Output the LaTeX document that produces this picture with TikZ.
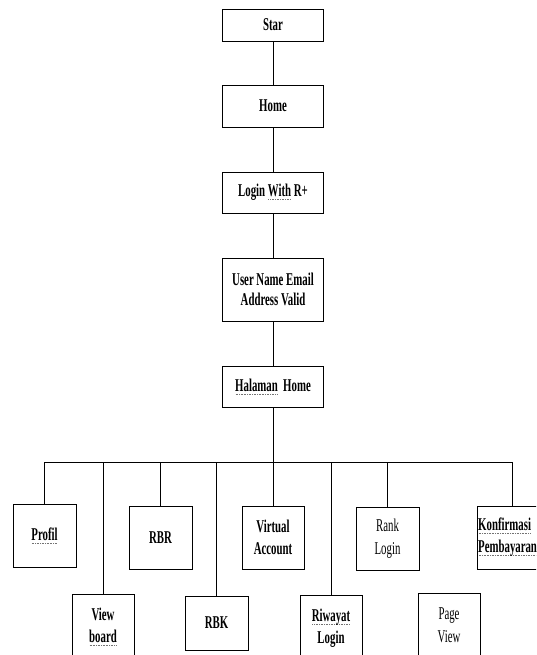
\documentclass[tikz,border=0pt]{standalone}
\usepackage{fontspec}
\setmainfont{Liberation Serif}[FakeStretch=0.6]
\newcommand\sqw[1]{\setbox0\hbox{#1}\rlap{\raisebox{-3pt}{\color{black!55}\hbox to\wd0{\xleaders\hbox{\kern0.4pt\rule{0.8pt}{0.7pt}\kern0.4pt}\hfill}}}\box0\relax}
\begin{document}
\begin{tikzpicture}[x=1pt,y=-1pt,
  box/.style={draw,line width=0.9pt,rectangle,inner sep=0pt,align=center,
    font=\fontsize{18}{22}\selectfont\bfseries},
  thin/.style={font=\fontsize{18}{23}\selectfont},
  link/.style={line width=0.9pt}]
\useasboundingbox (0,0) rectangle (536,655);
\clip (0,0) rectangle (536,655);
% main column
\node[box,minimum width=101pt,minimum height=32pt] (star) at (273,25) {Star};
\node[box,minimum width=101pt,minimum height=42pt] (home) at (273,106) {Home};
\node[box,minimum width=101pt,minimum height=41pt] (login) at (273,192.5) {Login \sqw{With} R+};
\node[box,minimum width=101pt,minimum height=63pt,font=\fontsize{18}{20}\selectfont\bfseries] (user) at (273,289.5) {User Name Email\\Address Valid};
\node[box,minimum width=101pt,minimum height=41pt] (halaman) at (273,386.5) {\sqw{Halaman}\ \ Home};
% upper row
\node[box,minimum width=63pt,minimum height=63pt] (profil) at (44.5,535.5) {\sqw{Profil}};
\node[box,minimum width=63pt,minimum height=63pt] (rbr) at (160.5,537.5) {RBR};
\node[box,minimum width=62pt,minimum height=63pt] (virtual) at (273,537.5) {Virtual\\Account};
\node[box,thin,minimum width=63pt,minimum height=63pt] (rank) at (387.5,538.5) {Rank\\Login};
\node[box,minimum width=70pt,minimum height=63pt] (konf) at (512,537.5) {};
\node[font=\fontsize{18}{22}\selectfont\bfseries,align=left,anchor=west,inner sep=0pt] (konftext) at (478,537.5) {\sqw{Konfirmasi}\\\sqw{Pembayaran}};
% lower row
\node[box,minimum width=62pt,minimum height=66pt] (view) at (103,627) {View\\\sqw{board}};
\node[box,minimum width=63pt,minimum height=54pt] (rbk) at (216.5,623) {RBK};
\node[box,minimum width=62pt,minimum height=66pt] (riwayat) at (331,628) {\sqw{Riwayat}\\Login};
\node[box,thin,minimum width=62pt,minimum height=64pt] (page) at (449,625) {Page\\View};
% connectors
\draw[link] (star) -- (home);
\draw[link] (home) -- (login);
\draw[link] (login) -- (user);
\draw[link] (user) -- (halaman);
\draw[link] (halaman) -- (virtual);
\coordinate (bar) at (0,462);
\draw[link] (profil.north |- bar) -- (konf.north |- bar);
\draw[link] (profil.north |- bar) -- (profil.north);
\draw[link] (view.north |- bar) -- (view.north);
\draw[link] (rbr.north |- bar) -- (rbr.north);
\draw[link] (rbk.north |- bar) -- (rbk.north);
\draw[link] (riwayat.north |- bar) -- (riwayat.north);
\draw[link] (rank.north |- bar) -- (rank.north);
\draw[link] (konf.north |- bar) -- (konf.north);
\end{tikzpicture}
\end{document}
